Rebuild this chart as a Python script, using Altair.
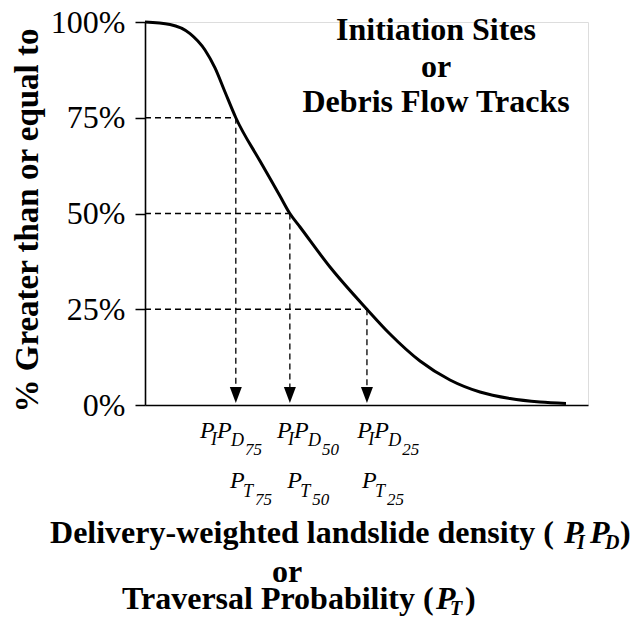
import altair as alt
import pandas as pd

# ---- data ----
curve_x = [0, 5.64, 10.16, 13.54, 15.80, 18.06, 20.5, 25.96, 30.47, 32.7, 34.99, 41.76,
           50.1, 55.30, 62.08, 68.85, 75.62, 82.39, 89.16, 95.03]
curve_y = [100, 99.35, 96.97, 92.69, 88.0, 81.72, 75, 63.7, 54.57, 50, 46.48, 36.03,
           25, 18.54, 11.49, 6.53, 3.39, 1.70, 0.78, 0.39]

quant_pct = [75, 50, 25]
quant_x = [20.5, 32.7, 50.1]
quant_lbl = ["75", "50", "25"]
row1_x = [12.4, 29.8, 47.9]
row2_x = [19.2, 32.1, 49.0]
y_ticks = [0, 25, 50, 75, 100]

W, H = 443, 383
FONT = "Times New Roman, Liberation Serif, Times, DejaVu Serif, serif"

curve_df = pd.DataFrame({"x": curve_x, "y": curve_y})
q_df = pd.DataFrame({"x0": [0] * 3, "x1": quant_x, "y": quant_pct})
lab_df = pd.DataFrame({"r1": row1_x, "r2": row2_x, "n": quant_lbl})

xs = alt.Scale(domain=[0, 100], nice=False, zero=False)
ys = alt.Scale(domain=[0, 100], nice=False, zero=False)

x_axis = alt.Axis(title=None, labels=False, ticks=False, grid=False,
                  domainColor="black", domainWidth=1.6)
y_axis = alt.Axis(title="% Greater than or equal to", values=y_ticks,
                  labelExpr="datum.value + '%'", labelFont=FONT, labelFontSize=32,
                  labelColor="black", labelPadding=10, tickSize=10, tickColor="black",
                  tickWidth=1.5, domainColor="black", domainWidth=1.6, grid=False,
                  titleFont=FONT, titleFontSize=33, titleFontWeight="bold",
                  titleColor="black", titleX=-108, titleY=198, titleAngle=270,
                  titleAlign="center", titleBaseline="alphabetic")


def X(f):
    return alt.X(f, type="quantitative", scale=xs, axis=x_axis)


def Y(f):
    return alt.Y(f, type="quantitative", scale=ys, axis=y_axis)


curve = alt.Chart(curve_df).mark_line(interpolate="monotone", color="black",
                                      strokeWidth=3).encode(x=X("x"), y=Y("y"))

hrules = alt.Chart(q_df).mark_rule(color="black", strokeWidth=1.3,
                                   strokeDash=[6, 4]).encode(
    x=X("x0"), x2="x1", y=Y("y"))

vrules = alt.Chart(q_df).transform_calculate(yb="4.5").mark_rule(
    color="black", strokeWidth=1.3, strokeDash=[6, 4]).encode(
    x=X("x1"), y=Y("y"), y2="yb:Q")

arrows = alt.Chart(q_df).mark_point(shape="M-0.75,-1L0.75,-1L0,1Z", filled=True,
                                    size=256, color="black", opacity=1).encode(
    x=X("x1"), y=alt.value(373))


def piece(field, txt, size, dx, dy, ybase):
    return alt.Chart(lab_df).mark_text(
        align="left", baseline="alphabetic", font=FONT, fontStyle="italic",
        fontSize=size, dx=dx, dy=dy, color="black").encode(
        x=X(field), y=alt.value(ybase),
        text=(alt.Text("n:N") if txt is None else alt.value(txt)))


labels = [
    piece("r1", "P", 24, 0, 0, 416),
    piece("r1", "I", 18, 11, 7, 416),
    piece("r1", "P", 24, 17, 0, 416),
    piece("r1", "D", 18, 31, 8, 416),
    piece("r1", None, 17, 45, 17, 416),
    piece("r2", "P", 24, 0, 0, 466),
    piece("r2", "T", 18, 13, 9, 466),
    piece("r2", None, 17, 25, 17, 466),
]


def txt(s, x, y, size=32, style="normal", align="left"):
    return alt.Chart(alt.Data(values=[{"t": s}])).mark_text(
        align=align, baseline="alphabetic", font=FONT, fontSize=size,
        fontWeight="bold", fontStyle=style, color="black").encode(
        x=alt.value(x), y=alt.value(y), text="t:N")


notes = [
    txt("Initiation Sites", 291, 18, align="center"),
    txt("or", 291, 55, align="center"),
    txt("Debris Flow Tracks", 291, 90, align="center"),
    # x title line 1
    txt("Delivery-weighted landslide density (", 409, 521, align="right"),
    txt("P", 419, 521, style="italic"),
    txt("I", 432, 527, size=20, style="italic"),
    txt("P", 445, 521, style="italic"),
    txt("D", 460, 527, size=20, style="italic"),
    txt(")", 475, 521),
    # line 2
    txt("or", 142, 560, align="center"),
    # line 3
    txt("Traversal Probability (", -23, 587),
    txt("P", 291, 587, style="italic"),
    txt("T", 305, 593, size=20, style="italic"),
    txt(")", 320, 587),
]

chart = alt.layer(curve, hrules, vrules, arrows, *labels, *notes).properties(
    width=W, height=H,
    autosize=alt.AutoSizeParams(type="none"),
    padding={"left": 137, "top": 14, "right": 44, "bottom": 211},
).configure_view(stroke=None).configure(background="white")

chart.save("out.html", embed_options={"renderer": "svg", "actions": False})
